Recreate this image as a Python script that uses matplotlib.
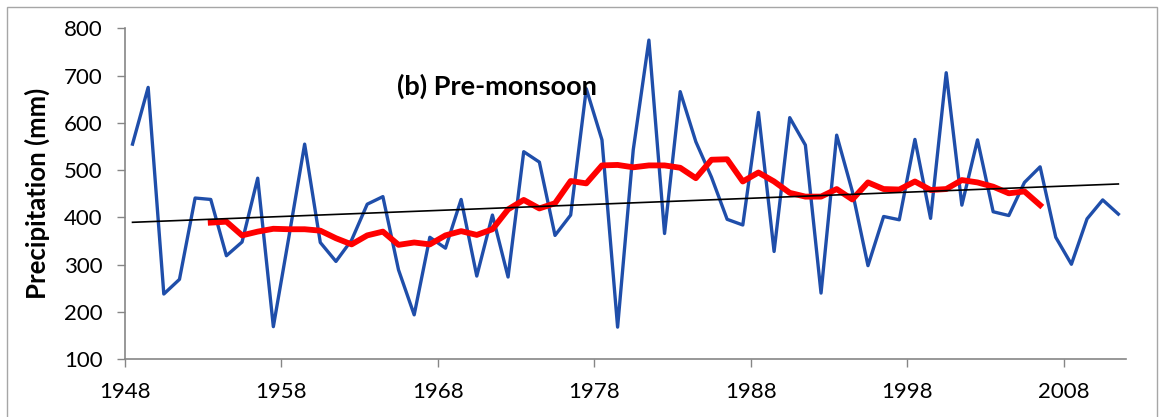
#!/usr/bin/env python3
# -*- coding: utf-8 -*-
"""
Pre-monsoon precipitation series with an 11-year moving average
and a linear trend line.
"""

# Import needed resources.
import numpy as np
import matplotlib.pyplot as plt
from matplotlib.patches import Rectangle

# Yearly pre-monsoon precipitation (mm).
years = list(range(1948, 2012))
precip = [555, 675, 238, 269, 441, 438, 319, 348, 483, 169,
          360, 555, 347, 307, 352, 428, 444, 289, 194, 358,
          335, 438, 276, 405, 274, 539, 517, 362, 405, 672,
          564, 168, 543, 775, 366, 666, 560, 485, 396, 384,
          622, 328, 611, 553, 240, 574, 455, 298, 402, 395,
          565, 398, 706, 426, 564, 412, 404, 474, 507, 358,
          301, 397, 437, 407]

# 11-year moving average (centred), 1953 to 2006.
ma_years = list(range(1953, 2007))
ma_precip = [389, 391, 362, 370, 376, 375, 375, 372, 356, 343,
             362, 370, 342, 347, 343, 362, 371, 363, 375, 417,
             437, 419, 430, 477, 472, 510, 511, 506, 510, 510,
             505, 483, 522, 523, 476, 495, 476, 452, 444, 444,
             460, 438, 474, 460, 459, 476, 458, 460, 479, 474,
             465, 451, 455, 426]

# Axis ticks.
x_ticks = [1948, 1958, 1968, 1978, 1988, 1998, 2008]
y_ticks = [100, 200, 300, 400, 500, 600, 700, 800]

plt.rcParams['font.family'] = ['Lato', 'DejaVu Sans']
axis_grey = '#868686'

fig = plt.figure(figsize=(11.61, 4.17), dpi=100)
ax = fig.add_axes([0.1074, 0.1384, 0.8626, 0.7938])

# Points sit in the middle of each year slot (Excel style).
x = np.array(years) + 0.5
x_ma = np.array(ma_years) + 0.5

ax.plot(x, precip, color='#1F4EAA', linewidth=2.4, zorder=2)
ax.plot(x_ma, ma_precip, color='#FF0000', linewidth=4.2, zorder=3)

# Linear trend line fitted over the whole series.
coef = np.polyfit(x, precip, 1)
ax.plot([x[0], x[-1]], np.polyval(coef, [x[0], x[-1]]),
        color='black', linewidth=1.2, zorder=4)

ax.text(1965.4, 677, '(b) Pre-monsoon', fontsize=19.5, fontweight='bold',
        ha='left', va='center')

# Configure axes.
ax.set_xlim(1948, 2012)
ax.set_ylim(100, 800)
ax.set_xticks(x_ticks)
ax.set_yticks(y_ticks)
ax.tick_params(axis='both', labelsize=16, color=axis_grey, length=6,
               width=1, pad=10)
ax.set_ylabel('Precipitation (mm)', fontsize=18.5, fontweight='bold',
              labelpad=10)
for side in ['top', 'right']:
    ax.spines[side].set_visible(False)
for side in ['left', 'bottom']:
    ax.spines[side].set_color(axis_grey)
    ax.spines[side].set_linewidth(1.2)

# Chart-area border (bottom edge falls outside the picture).
fig.patches.append(Rectangle((7 / 1161, -0.05), 1150 / 1161, 1.05 - 7 / 417,
                             transform=fig.transFigure, fill=False,
                             edgecolor='#A6A6A6', linewidth=1.0))

fig.savefig('out.png', dpi=100)
